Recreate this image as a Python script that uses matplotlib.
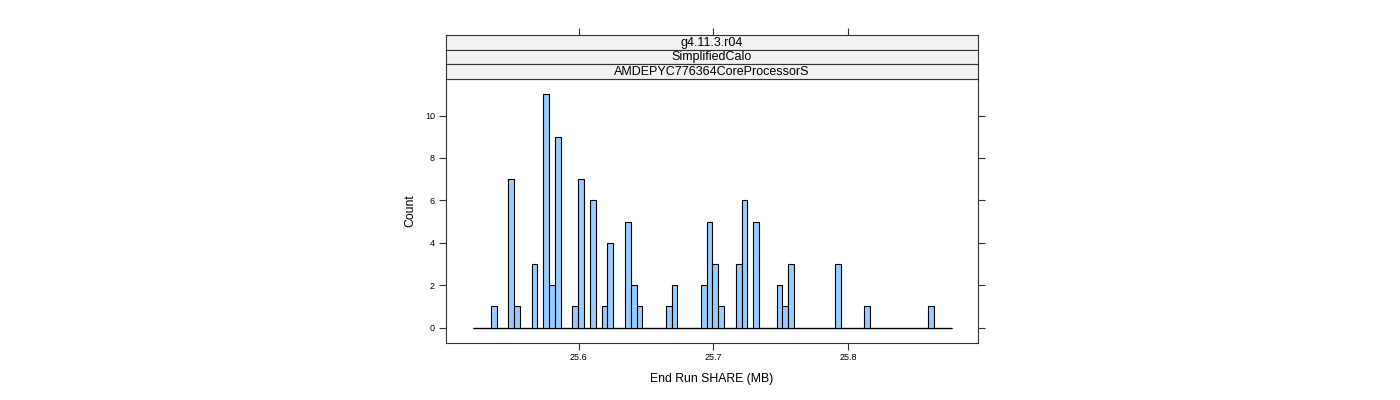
import matplotlib
matplotlib.use("Agg")
import matplotlib.pyplot as plt
import numpy as np

plt.rcParams['font.family'] = ['Liberation Sans', 'DejaVu Sans']

# ---- data ----
bin_start = 25.5218
bin_width = 0.004328
counts = [0, 0, 0, 1, 0, 0, 7, 1, 0, 0,
          3, 0, 11, 2, 9, 0, 0, 1, 7, 0,
          6, 0, 1, 4, 0, 0, 5, 2, 1, 0,
          0, 0, 0, 1, 2, 0, 0, 0, 0, 2,
          5, 3, 1, 0, 0, 3, 6, 0, 5, 0,
          0, 0, 2, 1, 3, 0, 0, 0, 0, 0,
          0, 0, 3, 0, 0, 0, 0, 1, 0, 0,
          0, 0, 0, 0, 0, 0, 0, 0, 1, 0,
          0, 0]
strip_labels = ["g4.11.3.r04", "SimplifiedCalo", "AMDEPYC776364CoreProcessorS"]
x_ticks = [25.6, 25.7, 25.8]
x_tick_labels = ["25.6", "25.7", "25.8"]
y_ticks = [0, 2, 4, 6, 8, 10]
x_label = "End Run SHARE (MB)"
y_label = "Count"

W, H = 1400, 400
fig = plt.figure(figsize=(W / 100, H / 100), dpi=100)

def fx(px):
    return px / W

def fy(py):
    return 1 - py / H

panel_l, panel_r, panel_t, panel_b = 446, 978, 78.5, 343
strip_edges = [35, 49.5, 64, 78.5]

edges = bin_start + bin_width * np.arange(len(counts))
border = '#333333'

ax = fig.add_axes([fx(panel_l), fy(panel_b), fx(panel_r - panel_l), (panel_b - panel_t) / H])
ax.plot([edges[0], edges[-1] + bin_width], [0, 0], color='black', linewidth=0.9,
        solid_capstyle='butt', zorder=1)
ax.bar(edges, counts, width=bin_width, align='edge', color='#99CCFF',
       edgecolor='black', linewidth=0.8, zorder=2)
ax.set_xlim(25.5016, 25.8962)
ax.set_ylim(-0.73, 11.75)
for s in ax.spines.values():
    s.set_color(border)
    s.set_linewidth(0.8)
ax.set_xticks(x_ticks)
ax.set_xticklabels(x_tick_labels)
ax.set_yticks(y_ticks)
ax.tick_params(axis='both', which='both', direction='out', length=5, width=0.8,
               color=border, labelsize=6.5, pad=3)
ax.tick_params(axis='y', right=True, labelright=False)
ax.tick_params(axis='x', pad=2)
ax.set_xlabel(x_label, fontsize=8.8, labelpad=8)
ax.set_ylabel(y_label, fontsize=8.8, labelpad=6)

# strips
for i, lab in enumerate(strip_labels):
    top, bot = strip_edges[i], strip_edges[i + 1]
    sax = fig.add_axes([fx(panel_l), fy(bot), fx(panel_r - panel_l), (bot - top) / H])
    sax.set_facecolor('#F2F2F2')
    sax.set_xticks([])
    sax.set_yticks([])
    for s in sax.spines.values():
        s.set_color(border)
        s.set_linewidth(0.8)
    sax.text(0.5, 0.45, lab, ha='center', va='center', fontsize=9,
             transform=sax.transAxes)

# top ticks above strips
tax = fig.add_axes([fx(panel_l), fy(panel_b), fx(panel_r - panel_l), (panel_b - strip_edges[0]) / H],
                   frameon=False, sharex=ax)
tax.patch.set_visible(False)
tax.tick_params(axis='x', top=True, bottom=False, labeltop=False, labelbottom=False,
                direction='out', length=5, width=0.8, color=border)
tax.tick_params(axis='y', left=False, labelleft=False)
tax.set_yticks([])

fig.savefig("out.png", dpi=100)
